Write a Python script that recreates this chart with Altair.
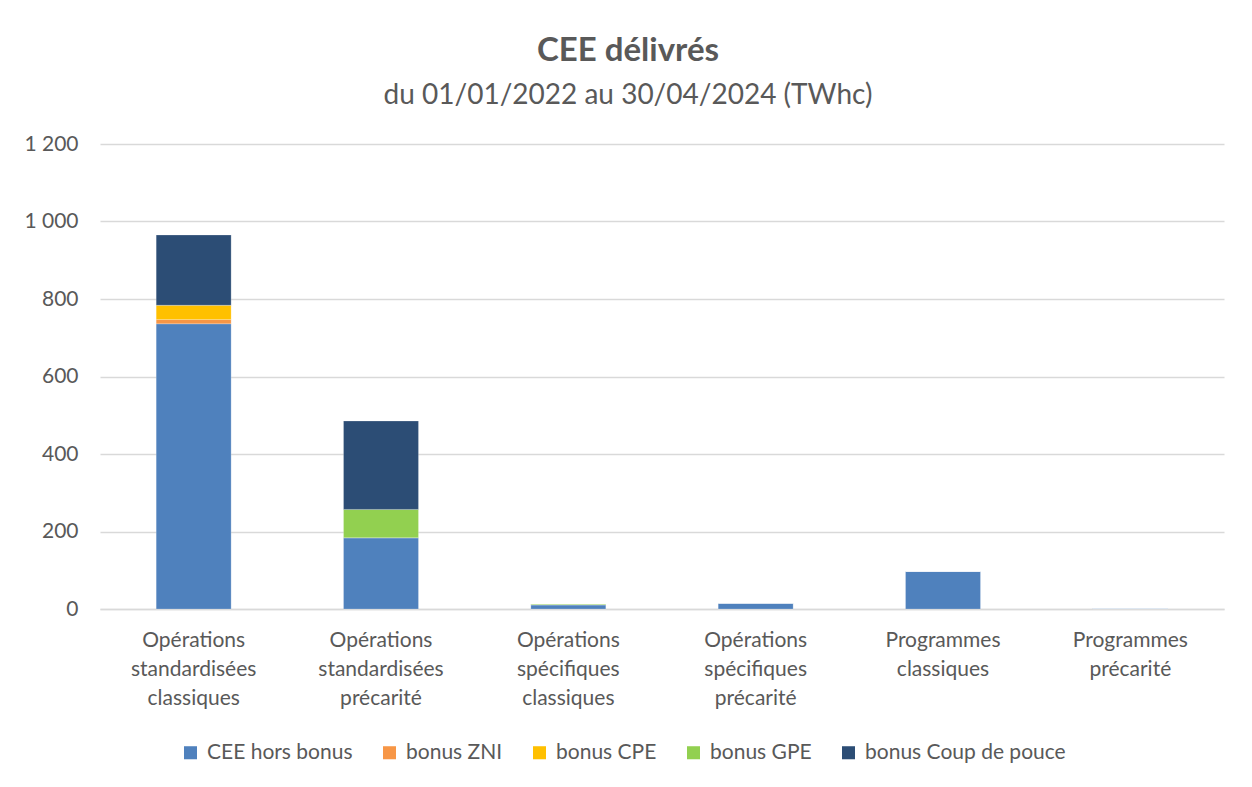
import altair as alt
import pandas as pd

categories = [
    "Opérations standardisées classiques",
    "Opérations standardisées précarité",
    "Opérations spécifiques classiques",
    "Opérations spécifiques précarité",
    "Programmes classiques",
    "Programmes précarité",
]
series = ["CEE hors bonus", "bonus ZNI", "bonus CPE", "bonus GPE", "bonus Coup de pouce"]
colors = ["#4F81BD", "#F79646", "#FFC000", "#92D050", "#2C4D75"]

hors_bonus = [736, 184, 11, 15, 97, 2]
bonus_zni = [11, 0, 0, 0, 0, 0]
bonus_cpe = [37, 0, 0, 0, 0, 0]
bonus_gpe = [0, 73, 2, 0, 0, 0]
bonus_cdp = [181, 228, 0, 0, 0, 0]

values = [hors_bonus, bonus_zni, bonus_cpe, bonus_gpe, bonus_cdp]
rows = []
for si, (s, vals) in enumerate(zip(series, values)):
    for c, v in zip(categories, vals):
        rows.append({"cat": c, "serie": s, "val": v, "idx": si})
df = pd.DataFrame(rows)

font = "Lato"
grey = "#595959"

chart = (
    alt.Chart(df)
    .mark_bar(stroke="white", strokeWidth=0.5, strokeOpacity=0.4)
    .encode(
        x=alt.X(
            "cat:N",
            sort=categories,
            title=None,
            scale=alt.Scale(paddingInner=0.6, paddingOuter=0.3),
            axis=alt.Axis(
                labelAngle=0,
                labelExpr="split(datum.label, ' ')",
                labelFontSize=21,
                labelLineHeight=29,
                labelColor=grey,
                labelFont=font,
                labelPadding=20,
                labelLimit=0,
                ticks=False,
                domainColor="#d9d9d9",
                domainWidth=1.5,
            ),
        ),
        y=alt.Y(
            "val:Q",
            title=None,
            stack="zero",
            scale=alt.Scale(domain=[0, 1200]),
            axis=alt.Axis(
                values=[0, 200, 400, 600, 800, 1000, 1200],
                labelExpr="replace(format(datum.value, ',d'), ',', ' ')",
                labelFontSize=21,
                labelColor=grey,
                labelFont=font,
                labelPadding=22,
                ticks=False,
                domain=False,
                gridColor="#d9d9d9",
                gridWidth=1.5,
            ),
        ),
        color=alt.Color(
            "serie:N",
            sort=series,
            scale=alt.Scale(domain=series, range=colors),
            legend=alt.Legend(
                title=None,
                orient="none",
                direction="horizontal",
                legendX=80,
                legendY=598,
                symbolType="square",
                symbolSize=170,
                symbolStrokeWidth=0,
                labelFontSize=21,
                labelColor=grey,
                labelFont=font,
                labelLimit=0,
                columnPadding=26,
                labelOffset=6,
            ),
        ),
        order=alt.Order("idx:Q", sort="ascending"),
    )
    .properties(
        width=1124,
        height=465,
        padding={"left": 92, "top": 136, "right": 20, "bottom": 165},
        autosize=alt.AutoSizeParams(type="none"),
        title=alt.TitleParams(
            text="CEE délivrés",
            subtitle="du 01/01/2022 au 30/04/2024 (TWhc)",
            anchor="middle",
            dx=-34,
            offset=23,
            font=font,
            fontSize=33,
            fontWeight="bold",
            color=grey,
            subtitleFont=font,
            subtitleFontSize=28,
            subtitleColor=grey,
            subtitlePadding=14,
        ),
    )
    .configure_view(stroke=None)
)

chart.save("out.html", embed_options={"renderer": "svg", "actions": False})
